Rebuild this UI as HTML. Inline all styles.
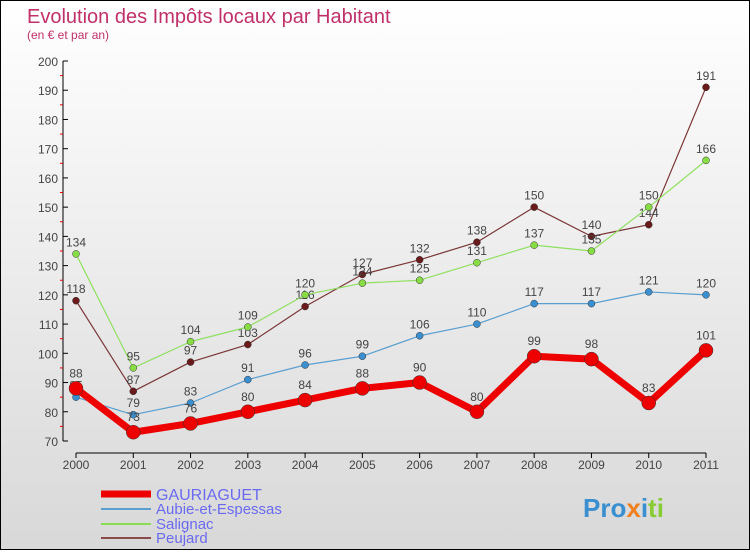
<!DOCTYPE html>
<html><head><meta charset="utf-8"><style>
body{margin:0;width:750px;height:550px;overflow:hidden;font-family:"Liberation Sans",sans-serif}
#wrap{position:absolute;left:0;top:0;width:748px;height:548px;border:1px solid #000;background:linear-gradient(#fff,#d8d8d8)}
</style></head><body>
<div id="wrap">
<svg id="chart" width="748" height="548">
<text x="26" y="22" font-size="20" fill="#c0306a">Evolution des Impôts locaux par Habitant</text>
<text x="26" y="38" font-size="12" fill="#c0306a">(en € et par an)</text>
<g id="axes"></g><g id="series"></g>
<g>
<line x1="100" y1="493" x2="150" y2="493" stroke="#e00" stroke-width="7"/>
<text x="155" y="499" font-size="16" fill="#6a6af0">GAURIAGUET</text>
<line x1="100" y1="508" x2="150" y2="508" stroke="#5a9fd0" stroke-width="2"/>
<text x="155" y="513" font-size="15" fill="#6a6af0">Aubie-et-Espessas</text>
<line x1="100" y1="523" x2="150" y2="523" stroke="#88dd55" stroke-width="2"/>
<text x="155" y="528" font-size="15" fill="#6a6af0">Salignac</text>
<line x1="100" y1="537" x2="150" y2="537" stroke="#8b4a4a" stroke-width="2"/>
<text x="155" y="542" font-size="15" fill="#6a6af0">Peujard</text>
</g>
<text x="582" y="516" font-size="26" font-weight="bold"><tspan fill="#3a8fd0">Pro</tspan><tspan fill="#f08020">x</tspan><tspan fill="#3a8fd0">i</tspan><tspan fill="#88cc33">ti</tspan></text>
</svg></div>
<script>
const years=[2000,2001,2002,2003,2004,2005,2006,2007,2008,2009,2010,2011];
const yTicks=[70,80,90,100,110,120,130,140,150,160,170,180,190,200];
const gauriaguet=[88,73,76,80,84,88,90,80,99,98,83,101];
const aubie=[85,79,83,91,96,99,106,110,117,117,121,120];
const salignac=[134,95,104,109,120,124,125,131,137,135,150,166];
const peujard=[118,87,97,103,116,127,132,138,150,140,144,191];
const NS="http://www.w3.org/2000/svg";
const X=i=>75+i*(630/11);
const Y=v=>440-(v-70)*(380/130);
function mk(tag,attrs,parent){const e=document.createElementNS(NS,tag);for(const k in attrs)e.setAttribute(k,attrs[k]);parent.appendChild(e);return e;}
const ax=document.getElementById('axes');
let yl=mk('line',{x1:62,y1:Y(200),x2:62,y2:Y(70),stroke:'#000'},ax);


let xl=mk('line',{x1:X(0),y1:452,x2:X(11),y2:452,stroke:'#000'},ax);


yTicks.forEach(v=>{
 mk('line',{x1:62,y1:Y(v),x2:67,y2:Y(v),stroke:'#000'},ax);
 if(v<200) mk('line',{x1:59,y1:Y(v+5),x2:62,y2:Y(v+5),stroke:'#e00'},ax);
 const t=mk('text',{x:57,y:Y(v)+5,'font-size':12,fill:'#444','text-anchor':'end'},ax);
 t.textContent=v;
 
 
});
years.forEach((yr,i)=>{
 mk('line',{x1:X(i),y1:452,x2:X(i),y2:457,stroke:'#000'},ax);
 const t=mk('text',{x:X(i),y:468,'font-size':12,fill:'#444','text-anchor':'middle'},ax);
 t.textContent=yr;
 
 
});
const sg=document.getElementById('series');
function draw(data,name,color,dot,w,r){
 const g=mk('g',{},sg);
 
 
 const p=mk('polyline',{points:data.map((v,i)=>X(i)+','+Y(v)).join(' '),fill:'none',stroke:color,'stroke-width':w,'stroke-linejoin':'round'},g);
 
 
 data.forEach((v,i)=>{
  const c=mk('circle',{cx:X(i),cy:Y(v),r:r,fill:dot,stroke:'#333','stroke-width':0.5},g);
  
  
  const t=mk('text',{x:X(i),y:Y(v)-r-4,'font-size':12,fill:'#444','text-anchor':'middle'},g);
  t.textContent=v;
  
  
 });
}
draw(peujard,'peujard','#7a3535','#6a1a1a',1.2,3.5);
draw(salignac,'salignac','#90e060','#88dd44',1.2,3.5);
draw(aubie,'aubie','#5a9fd0','#3a8fd0',1.2,3.5);
draw(gauriaguet,'gauriaguet','#ee0000','#ee0000',7,7);
</script>
</body></html>
